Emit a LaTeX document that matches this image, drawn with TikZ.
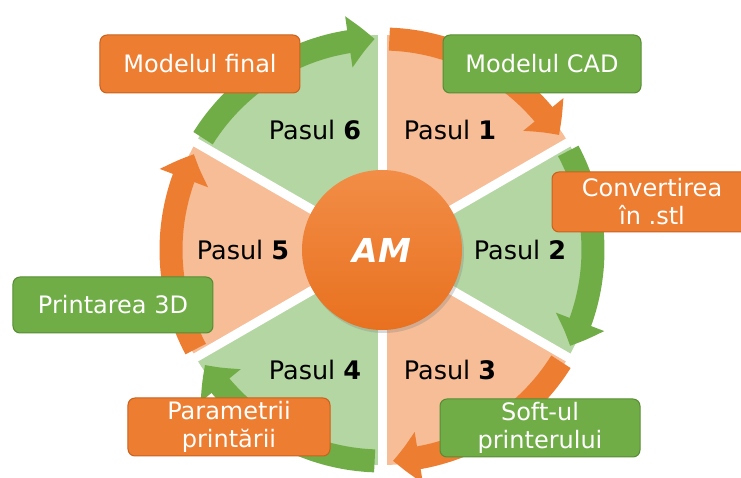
\documentclass[tikz,border=0pt]{standalone}
\usepackage{fontspec}
\setmainfont{DejaVu Sans}
\usepackage{tikz}
\usetikzlibrary{arrows.meta,bending,shadows}
\definecolor{AmOrange}{HTML}{ED7D31}
\definecolor{AmOrangeDark}{HTML}{C8621E}
\definecolor{AmOrangeLight}{HTML}{F6BD97}
\definecolor{AmOrangeTop}{HTML}{F28D47}
\definecolor{AmOrangeBottom}{HTML}{E8711F}
\definecolor{AmGreen}{HTML}{70AD47}
\definecolor{AmGreenDark}{HTML}{578C35}
\definecolor{AmGreenLight}{HTML}{B4D6A2}
\newcommand{\pasul}[1]{Pasul \textbf{#1}}

\begin{document}
\begin{tikzpicture}[
  x=1pt, y=1pt,
  stepbox/.style={rounded corners=7pt, text=white, align=center, minimum width=200pt, minimum height=58pt, line width=1pt, inner sep=2pt, font=\fontsize{24}{28}\selectfont},
  obox/.style={stepbox, fill=AmOrange, draw=AmOrangeDark},
  gbox/.style={stepbox, fill=AmGreen, draw=AmGreenDark},
  pas/.style={font=\fontsize{25.5}{28}\selectfont},
  band/.style={line width=23pt, -{Triangle[width=50pt, length=26pt, bend]}}
]
  \useasboundingbox (-382,-228) rectangle (359,250);
  % sectors
  \fill[AmOrangeLight] (0,0) -- (90:215) arc[start angle=90, end angle=30, radius=215] -- cycle;
  \fill[AmGreenLight] (0,0) -- (30:215) arc[start angle=30, end angle=-30, radius=215] -- cycle;
  \fill[AmOrangeLight] (0,0) -- (-30:215) arc[start angle=-30, end angle=-90, radius=215] -- cycle;
  \fill[AmGreenLight] (0,0) -- (-90:215) arc[start angle=-90, end angle=-150, radius=215] -- cycle;
  \fill[AmOrangeLight] (0,0) -- (210:215) arc[start angle=210, end angle=150, radius=215] -- cycle;
  \fill[AmGreenLight] (0,0) -- (150:215) arc[start angle=150, end angle=90, radius=215] -- cycle;
  \foreach \a in {30,90,...,330}
    \draw[white, line width=9pt] (0,0) -- (\a:217);
  % arrows on the rim
  \draw[band, AmOrange] (88:211) arc[start angle=88, end angle=33, radius=211];
  \draw[band, AmGreen] (28:211) arc[start angle=28, end angle=-27, radius=211];
  \draw[band, AmOrange] (-32:211) arc[start angle=-32, end angle=-87, radius=211];
  \draw[band, AmGreen] (-92:211) arc[start angle=-92, end angle=-147, radius=211];
  \draw[band, AmOrange] (208:211) arc[start angle=208, end angle=153, radius=211];
  \draw[band, AmGreen] (148:211) arc[start angle=148, end angle=92, radius=211];
  % centre
  \node[circle, minimum size=160pt, top color=AmOrangeTop, bottom color=AmOrangeBottom, drop shadow={opacity=0.3, shadow xshift=2pt, shadow yshift=-3pt}, text=white, font=\fontsize{33}{33}\selectfont\bfseries\itshape] (am) at (0,0) {AM};
  \node[pas] (p1) at (68,120) {\pasul{1}};
  \node[pas] (p2) at (138,0) {\pasul{2}};
  \node[pas] (p3) at (68,-120) {\pasul{3}};
  \node[pas] (p4) at (-67,-120) {\pasul{4}};
  \node[pas] (p5) at (-139,0) {\pasul{5}};
  \node[pas] (p6) at (-67,120) {\pasul{6}};
  % labels
  \node[gbox, minimum width=198pt] (cad) at (160,186) {Modelul CAD};
  \node[obox, minimum height=60pt] (stl) at (270,48) {Convertirea\\în .stl};
  \node[gbox] (soft) at (158,-178) {Soft-ul\\printerului};
  \node[obox, minimum width=202pt] (param) at (-153,-177) {Parametrii\\printării};
  \node[gbox, minimum height=56pt] (print) at (-269,-55) {Printarea 3D};
  \node[obox] (final) at (-182,186) {Modelul final};
\end{tikzpicture}
\end{document}
